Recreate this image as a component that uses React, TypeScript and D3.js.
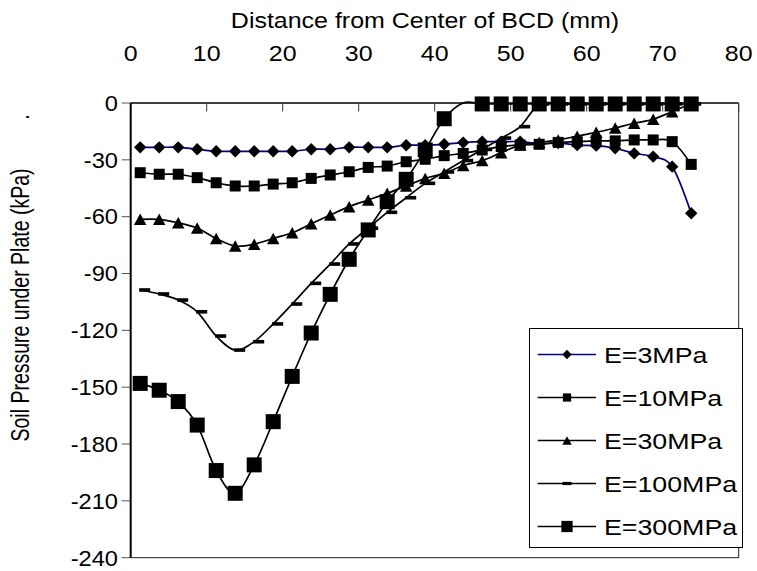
import React from 'react';
import * as d3 from 'd3';

const xTicks = [0, 10, 20, 30, 40, 50, 60, 70, 80];
const yTicks = [0, -30, -60, -90, -120, -150, -180, -210, -240];

const distance = [1.25, 3.75, 6.25, 8.75, 11.25, 13.75, 16.25, 18.75, 21.25, 23.75,
  26.25, 28.75, 31.25, 33.75, 36.25, 38.75, 41.25, 43.75, 46.25, 48.75,
  51.25, 53.75, 56.25, 58.75, 61.25, 63.75, 66.25, 68.75, 71.25, 73.75];

const e3 = [-23.4, -23.4, -23.4, -24.4, -25.5, -25.5, -25.5, -25.5, -25.5, -24.4,
  -24.4, -23.4, -23.4, -23.4, -22.3, -22.3, -21.8, -20.9, -20.4, -20.4,
  -20.4, -21.5, -21.2, -22.2, -22.5, -23.9, -26.6, -28.3, -33.6, -58.2];

const e10 = [-36.8, -37.6, -37.6, -39.4, -42.1, -43.8, -43.8, -42.8, -42.1, -39.8,
  -38.0, -36.3, -34.0, -33.3, -31.0, -29.7, -27.8, -26.6, -24.8, -23.0,
  -22.2, -21.8, -20.8, -20.4, -20.0, -20.0, -19.5, -19.5, -20.4, -32.4];

const e30 = [-61.4, -61.4, -63.2, -66.0, -71.5, -75.5, -74.5, -71.5, -68.5, -63.7,
  -59.1, -54.7, -51.2, -47.7, -43.8, -39.8, -37.1, -33.0, -30.4, -26.2,
  -22.2, -20.8, -19.5, -17.5, -15.5, -13.2, -10.7, -8.6, -4.6, -0.3];

const e100 = [-98.7, -100.8, -104.0, -110.2, -123.0, -130.4, -126.0, -116.6, -106.1, -95.2,
  -85.0, -74.4, -66.1, -57.7, -50.0, -42.4, -36.4, -30.4, -24.5, -18.5,
  -12.5, -0.5, -0.5, -0.5, -0.5, -0.5, -0.5, -0.5, -0.5, -0.5];

const e300 = [-148.0, -151.6, -157.6, -170.0, -194.0, -206.0, -191.0, -168.2, -144.3, -121.4,
  -101.0, -82.5, -67.0, -52.1, -40.3, -24.8, -8.3, 0, -0.5, -0.5,
  -0.5, -0.5, -0.5, -0.5, -0.5, -0.5, -0.5, -0.5, -0.5, -0.5];

// points of E=300MPa that show no marker in the reference
const e300NoMarker = [43.75];

const seriesNames = ['E=3MPa', 'E=10MPa', 'E=30MPa', 'E=100MPa', 'E=300MPa'];
const seriesValues = [e3, e10, e30, e100, e300];
const seriesMarkers = ['diamond', 'square', 'triangle', 'dash', 'bigsquare'];
const seriesColors = ['#000080', '#000000', '#000000', '#000000', '#000000'];

const FONT = '"Liberation Sans", Arial, sans-serif';

function Marker({ type, cx, cy, legend }: { type: string; cx: number; cy: number; legend?: boolean }) {
  const k = legend ? 0.75 : 1;
  if (type === 'diamond') {
    const r = 6.2 * k;
    return <path d={`M${cx},${cy - r}L${cx + r},${cy}L${cx},${cy + r}L${cx - r},${cy}Z`} fill="#000" />;
  }
  if (type === 'square') {
    const s = 11 * k;
    return <rect x={cx - s / 2} y={cy - s / 2} width={s} height={s} fill="#000" />;
  }
  if (type === 'bigsquare') {
    const s = 15 * k;
    return <rect x={cx - s / 2} y={cy - s / 2} width={s} height={s} fill="#000" />;
  }
  if (type === 'triangle') {
    const w = 12.5 * k, h = 11.5 * k;
    return <path d={`M${cx},${cy - h / 2}L${cx + w / 2},${cy + h / 2}L${cx - w / 2},${cy + h / 2}Z`} fill="#000" />;
  }
  if (type === 'dash') {
    if (legend) return <rect x={cx - 4.5} y={cy - 1.6} width={9} height={3.2} fill="#000" />;
    return <rect x={cx - 1} y={cy - 1.8} width={11} height={3.6} fill="#000" />;
  }
  return null;
}

export default function App() {
  const W = 757, H = 571;
  const left = 130.7, right = 738.7, top = 103, bottom = 557.7;
  const x = d3.scaleLinear().domain([0, 80]).range([left, right]);
  const y = d3.scaleLinear().domain([0, -240]).range([top, bottom]);

  const line = d3.line<[number, number]>()
    .x(d => x(d[0]))
    .y(d => y(d[1]))
    .curve(d3.curveCatmullRom.alpha(0));

  const legX0 = 529.5, legY0 = 328.5, legX1 = 742.5, legY1 = 547.5;
  const legRow0 = 354.5, legStep = 43;

  return (
    <svg width={W} height={H} style={{ position: 'absolute', left: 0, top: 0, background: '#fff' }}
      fontFamily={FONT}>
      <rect x={0} y={0} width={W} height={H} fill="#fff" />
      {/* title */}
      <text transform={`translate(425,28) scale(1.12,1)`} textAnchor="middle" fontSize={22.3} fill="#000">
        Distance from Center of BCD (mm)
      </text>
      {/* y title */}
      <text transform={`translate(29,305) scale(1.3,1) rotate(-90)`} textAnchor="middle" fontSize={19.5} fill="#000">
        Soil Pressure under Plate (kPa)
      </text>
      <text transform={`translate(29,117) scale(1.3,1) rotate(-90)`} textAnchor="middle" fontSize={19.5} fill="#000">
        .
      </text>

      {/* plot border */}
      <line x1={right} y1={top} x2={right} y2={bottom} stroke="#222" strokeWidth={1} />
      <line x1={left} y1={bottom} x2={right} y2={bottom} stroke="#222" strokeWidth={1} />

      {/* x axis on top */}
      <line x1={left} y1={top} x2={right} y2={top} stroke="#000" strokeWidth={1.5} />
      {xTicks.map(t => (
        <g key={'xt' + t}>
          <line x1={x(t)} y1={top} x2={x(t)} y2={top + 8.5} stroke="#333" strokeWidth={1} />
          <text transform={`translate(${x(t)},61) scale(1.12,1)`} textAnchor="middle" fontSize={22.3} fill="#000">{t}</text>
        </g>
      ))}

      {/* y axis */}
      {yTicks.map(t => (
        <g key={'yt' + t}>
          <line x1={left - 9} y1={y(t)} x2={left} y2={y(t)} stroke="#555" strokeWidth={1} />
          <text transform={`translate(118,${y(t) + 7.8}) scale(1.1,1)`} textAnchor="end" fontSize={21.5} fill="#000">{t}</text>
        </g>
      ))}
      <line x1={left} y1={top} x2={left} y2={bottom} stroke="#000" strokeWidth={2} />

      {/* series */}
      {seriesValues.map((vals, si) => {
        const pts: [number, number][] = distance.map((d, i) => [d, vals[i]]);
        return (
          <g key={'s' + si}>
            <path d={line(pts) || ''} fill="none" stroke={seriesColors[si]} strokeWidth={1.7} />
            {pts.map((p, i) => {
              if (si === 4 && e300NoMarker.includes(p[0])) return null;
              return <Marker key={i} type={seriesMarkers[si]} cx={x(p[0])} cy={y(p[1])} />;
            })}
          </g>
        );
      })}

      {/* legend */}
      <rect x={legX0} y={legY0} width={legX1 - legX0} height={legY1 - legY0} fill="#fff" stroke="#000" strokeWidth={1} />
      {seriesNames.map((n, i) => {
        const cy = legRow0 + i * legStep;
        return (
          <g key={'lg' + i}>
            <line x1={537.7} y1={cy} x2={596} y2={cy} stroke={seriesColors[i]} strokeWidth={1.7} />
            <Marker type={seriesMarkers[i]} cx={567} cy={cy} legend />
            <text transform={`translate(604,${cy + 8}) scale(1.2,1)`} fontSize={22.3} fill="#000">{n}</text>
          </g>
        );
      })}
    </svg>
  );
}
